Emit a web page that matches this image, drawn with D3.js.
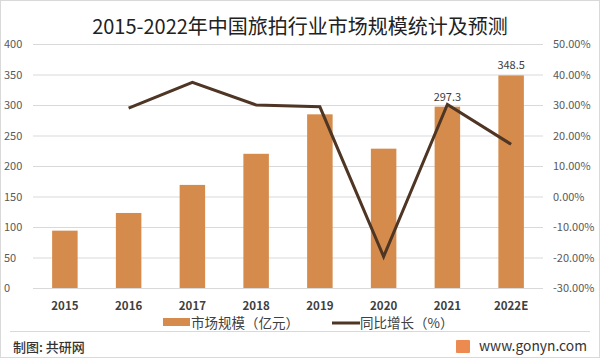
<!DOCTYPE html>
<meta charset="UTF-8">
<script src="https://d3js.org/d3.v7.min.js"></script>
<style>
  body { margin: 0; background: #fff; }
  text { font-family: "Microsoft YaHei", "Noto Sans CJK SC", sans-serif; }
</style>
<body>
<div id="chart"></div>
<script>
// data
var years = ["2015", "2016", "2017", "2018", "2019", "2020", "2021", "2022E"];
var scale = [94, 123, 169, 220, 284.7, 228.4, 297.3, 348.5];
var growth = [null, 29.0, 37.4, 30.0, 29.4, -19.7, 30.2, 17.1];
var leftTicks = [0, 50, 100, 150, 200, 250, 300, 350, 400];
var rightTicks = [-30, -20, -10, 0, 10, 20, 30, 40, 50];
var labelled = ["2021", "2022E"];

var W = 600, H = 361;
var plotL = 33, plotR = 543, plotT = 44, plotB = 288;

var svg = d3.select("#chart").append("svg")
  .attr("width", W).attr("height", H);

// frame
svg.append("rect").attr("x", 0.5).attr("y", 0.5)
  .attr("width", W - 1).attr("height", H - 4)
  .attr("fill", "none").attr("stroke", "#d9d9d9");

var x = d3.scaleBand().domain(years).range([plotL, plotR]).paddingInner(0.6).paddingOuter(0.3);
var y = d3.scaleLinear().domain([0, 400]).range([plotB, plotT]);
var y2 = d3.scaleLinear().domain([-30, 50]).range([plotB, plotT]);

// gridlines
svg.append("g").selectAll("line").data(leftTicks).enter().append("line")
  .attr("x1", plotL).attr("x2", plotR)
  .attr("y1", function (d) { return y(d) + 0.5; })
  .attr("y2", function (d) { return y(d) + 0.5; })
  .attr("stroke", "#d9d9d9");

// left axis
var ga = svg.append("g").attr("transform", "translate(" + (plotL - 8) + ",0)")
  .call(d3.axisLeft(y).tickValues(leftTicks).tickSize(0).tickPadding(0));
ga.select(".domain").remove();
ga.selectAll("text").attr("fill", "#595959").style("font-size", "11px")
  .attr("text-anchor", "start").attr("x", -21);

// right axis
var gb = svg.append("g").attr("transform", "translate(" + (plotR + 10) + ",0)")
  .call(d3.axisRight(y2).tickValues(rightTicks).tickSize(0).tickPadding(0)
    .tickFormat(function (d) { return d.toFixed(2) + "%"; }));
gb.select(".domain").remove();
gb.selectAll("text").attr("fill", "#595959").style("font-size", "11px");

// bars
svg.append("g").selectAll("rect").data(years).enter().append("rect")
  .attr("x", function (d) { return x(d); })
  .attr("width", x.bandwidth())
  .attr("y", function (d, i) { return y(scale[i]); })
  .attr("height", function (d, i) { return plotB - y(scale[i]); })
  .attr("fill", "#d58b4c");

// bar labels
svg.append("g").selectAll("text").data(years.filter(function (d) { return labelled.indexOf(d) >= 0; }))
  .enter().append("text")
  .attr("x", function (d) { return x(d) + x.bandwidth() / 2; })
  .attr("y", function (d) { return y(scale[years.indexOf(d)]) - 6; })
  .attr("text-anchor", "middle")
  .attr("fill", "#404040").style("font-size", "11px")
  .text(function (d) { return scale[years.indexOf(d)]; });

// growth line
var line = d3.line()
  .defined(function (d) { return d.v !== null; })
  .x(function (d) { return x(d.k) + x.bandwidth() / 2; })
  .y(function (d) { return y2(d.v); });
svg.append("path")
  .datum(years.map(function (k, i) { return { k: k, v: growth[i] }; }))
  .attr("d", line)
  .attr("fill", "none").attr("stroke", "#4e3524").attr("stroke-width", 3)
  .attr("stroke-linejoin", "miter");

// x labels
var gx = svg.append("g").attr("transform", "translate(0," + (plotB + 14) + ")")
  .call(d3.axisBottom(x).tickSize(0).tickPadding(0));
gx.select(".domain").remove();
gx.selectAll("text").attr("fill", "#404040").style("font-size", "11.5px").style("font-weight", "600");

// title
svg.append("text").attr("x", 300).attr("y", 34).attr("text-anchor", "middle")
  .attr("fill", "#222").style("font-size", "20px")
  .text("2015-2022年中国旅拍行业市场规模统计及预测");

// legend
var lg = svg.append("g");
lg.append("rect").attr("x", 163).attr("y", 318).attr("width", 27).attr("height", 8).attr("fill", "#d58b4c");
lg.append("text").attr("x", 191).attr("y", 328).attr("fill", "#404040").style("font-size", "13.5px")
  .text("市场规模（亿元）");
lg.append("line").attr("x1", 332).attr("x2", 360).attr("y1", 323).attr("y2", 323)
  .attr("stroke", "#4e3524").attr("stroke-width", 3);
lg.append("text").attr("x", 360).attr("y", 328).attr("fill", "#404040").style("font-size", "13.5px")
  .text("同比增长（%）");

// footer
svg.append("line").attr("x1", 10).attr("x2", 590).attr("y1", 331.5).attr("y2", 331.5).attr("stroke", "#d9d9d9");
svg.append("text").attr("x", 13).attr("y", 352).attr("fill", "#333").style("font-size", "13px").style("font-weight", "500")
  .text("制图: 共研网");
svg.append("rect").attr("x", 456).attr("y", 340).attr("width", 14).attr("height", 13).attr("fill", "#ec8a4f").attr("rx", 1);
svg.append("text").attr("x", 587).attr("y", 351).attr("text-anchor", "end").attr("fill", "#333").style("font-size", "14px")
  .attr("textLength", 108).attr("lengthAdjust", "spacingAndGlyphs")
  .text("www.gonyn.com");
</script>
</body>
